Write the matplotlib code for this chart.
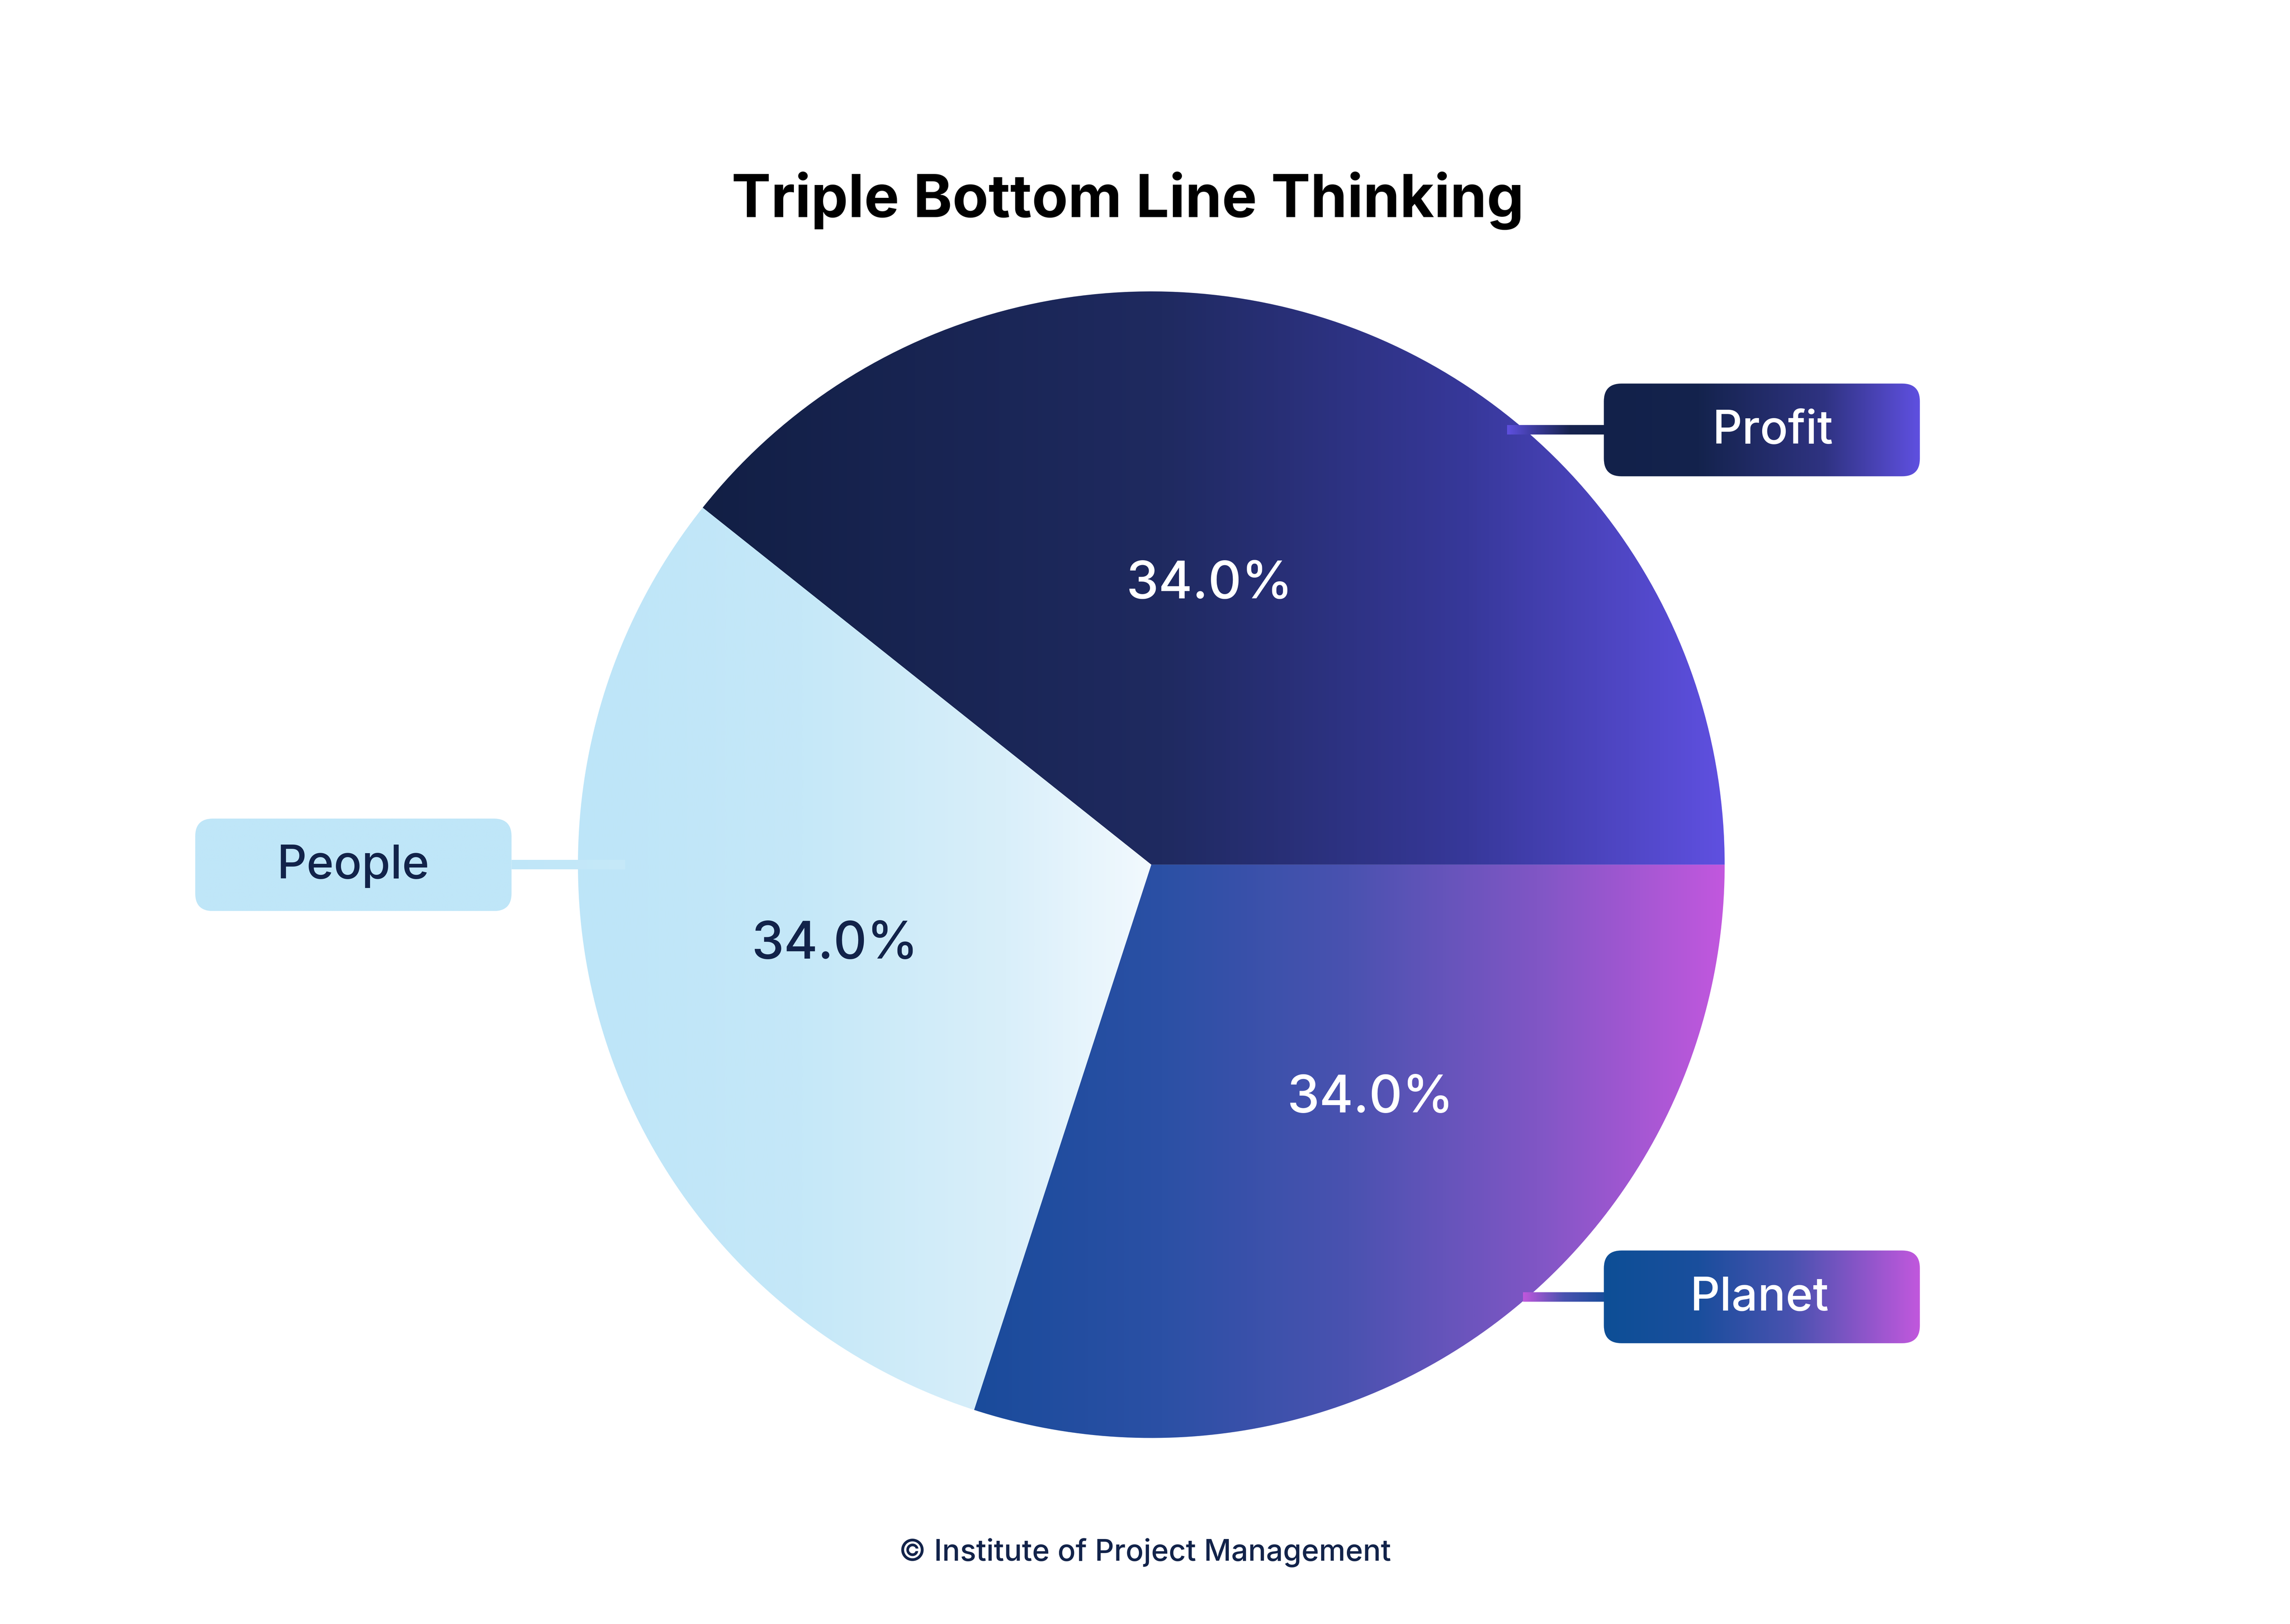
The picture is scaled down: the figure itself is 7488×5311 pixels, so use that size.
import numpy as np
import matplotlib
matplotlib.use("Agg")
import matplotlib.pyplot as plt
from matplotlib.colors import LinearSegmentedColormap
from matplotlib.patches import FancyBboxPatch

# ---------------- data ----------------
categories = ["Profit", "People", "Planet"]
shares = [39.3, 30.7, 30.0]               # angular share of each wedge
pct_labels = ["34.0%", "34.0%", "34.0%"]  # labels as printed on the chart
title = "Triple Bottom Line Thinking"
footer = "\u00a9 Institute of Project Management"

# ---------------- style / layout ----------------
W, H = 8000, 5675
plt.rcParams["font.family"] = ["Inter", "DejaVu Sans"]
NAVY = "#12234a"

wedge_grads = [
    ([0, 0.45, 0.75, 1], ["#121f45", "#1f2a60", "#37389a", "#5f50e0"]),
    ([0, 0.4, 0.75, 1], ["#bde5f8", "#c5e8f8", "#d9effa", "#f2f9fe"]),
    ([0, 0.25, 0.5, 0.75, 1], ["#1a4b9b", "#2b50a5", "#4a52b0", "#8056c5", "#c258de"]),
]
pct_colors = ["white", NAVY, "white"]
pct_pos = [(0.508, 78.5), (0.567, 193.3), (0.552, 313.8)]   # (radius fraction, angle deg)

box_grads = [
    ([0, 0.3, 0.7, 1], ["#12214a", "#14234d", "#2f3382", "#5f50e0"]),
    ([0, 1], ["#bfe6f8", "#bfe6f8"]),
    ([0, 0.3, 0.6, 1], ["#0d4f96", "#1a4e9d", "#4a52b0", "#c158dd"]),
]
box_rects = [(5603, 4010, 1104, 324), (682, 2491, 1105, 323), (5603, 981, 1104, 324)]
box_text_dx = [38, 0, -8]
box_text_colors = ["white", NAVY, "white"]
conn_specs = [  # x0, x1, yc, stops, colors
    (5265, 5603, 4172, [0, 0.3, 0.65, 1], ["#5f50e0", "#3a3a98", "#18244f", "#12214a"]),
    (1787, 2183, 2653, [0, 1], ["#bfe6f8", "#c6e9f9"]),
    (5320, 5603, 1143, [0, 0.5, 1], ["#c058dc", "#4a52b0", "#1a4d9b"]),
]
CONN_T = 33
DPI = 468

fig = plt.figure(figsize=(16, 11.35), dpi=DPI)
fig.patch.set_facecolor("white")
ax = fig.add_axes([0, 0, 1, 1])

cx, cy, R = 4022, H - 3022, 2003
wedges, _ = ax.pie(shares, startangle=0, counterclock=True, radius=R,
                   center=(cx, cy), wedgeprops=dict(linewidth=0))


def gradient(extent, stops, colors, clip=None, z=2):
    cmap = LinearSegmentedColormap.from_list("g", list(zip(stops, colors)))
    arr = np.linspace(0, 1, 1024)[None, :]
    im = ax.imshow(arr, cmap=cmap, extent=extent, aspect="auto",
                   interpolation="bilinear", origin="lower", zorder=z)
    if clip is not None:
        im.set_clip_path(clip)
    return im


for w, (st, co) in zip(wedges, wedge_grads):
    w.set_facecolor("none")
    w.set_edgecolor("none")
    v = w.get_path().vertices
    gradient((v[:, 0].min(), v[:, 0].max(), v[:, 1].min(), v[:, 1].max()), st, co, clip=w, z=1)

for lab, (rf, ang), col in zip(pct_labels, pct_pos, pct_colors):
    x = cx + rf * R * np.cos(np.radians(ang))
    y = cy + rf * R * np.sin(np.radians(ang))
    ax.text(x, y, lab, ha="center", va="center_baseline", fontsize=26.0,
            fontweight="medium", color=col, zorder=5)

for x0, x1, yc, st, co in conn_specs:
    gradient((x0, x1, yc - CONN_T / 2, yc + CONN_T / 2), st, co, z=3)

for cat, (bx, by, bw, bh), (st, co), tc, dx in zip(categories, box_rects, box_grads,
                                                    box_text_colors, box_text_dx):
    patch = FancyBboxPatch((bx, by), bw, bh, boxstyle="round,pad=0,rounding_size=62",
                           facecolor="none", edgecolor="none", zorder=4)
    ax.add_patch(patch)
    gradient((bx, bx + bw, by, by + bh), st, co, clip=patch, z=4)
    ax.text(bx + bw / 2 + dx, by + bh / 2 - 47, cat, ha="center", va="baseline",
            fontsize=23.3, fontweight="medium", color=tc, zorder=6)

ax.text(3940, H - 759, title, ha="center", va="baseline", fontsize=29.7,
        fontweight="bold", color="black")
ax.text(4000, H - 5452, footer, ha="center", va="baseline", fontsize=15.0,
        fontweight="medium", color=NAVY)

ax.set_xlim(0, W)
ax.set_ylim(0, H)
ax.set_aspect("equal")
ax.axis("off")
fig.savefig("out.png", dpi=DPI, facecolor="white")
